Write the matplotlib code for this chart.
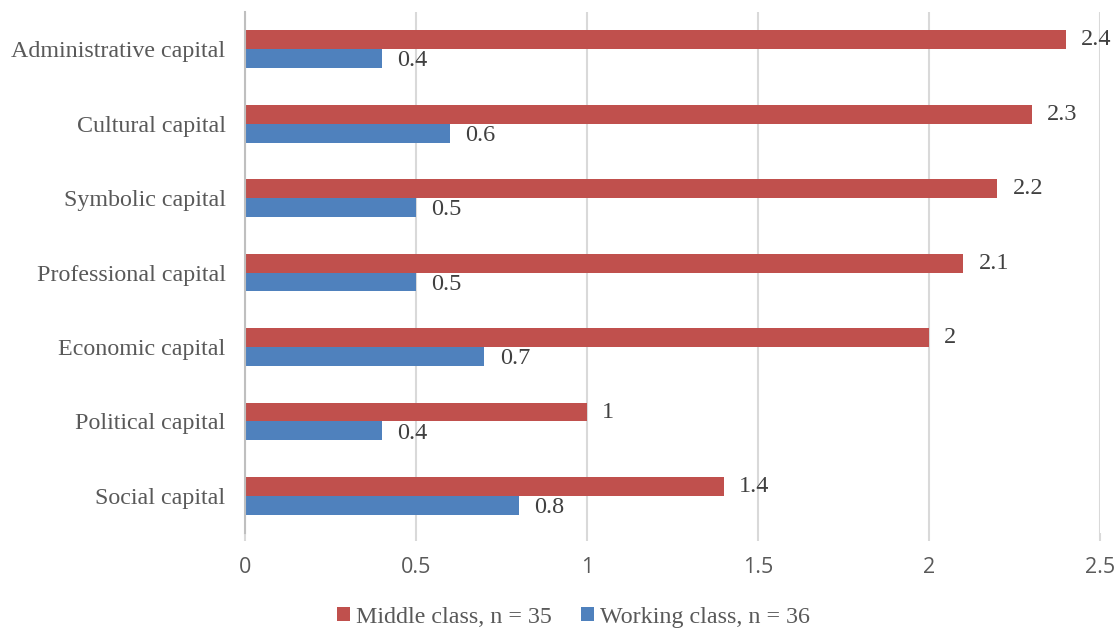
import matplotlib
matplotlib.use("Agg")
import matplotlib.pyplot as plt
import numpy as np

categories = ["Administrative capital", "Cultural capital", "Symbolic capital",
              "Professional capital", "Economic capital", "Political capital",
              "Social capital"]
middle = [2.4, 2.3, 2.2, 2.1, 2.0, 1.0, 1.4]
working = [0.4, 0.6, 0.5, 0.5, 0.7, 0.4, 0.8]
middle_labels = ["2.4", "2.3", "2.2", "2.1", "2", "1", "1.4"]
working_labels = ["0.4", "0.6", "0.5", "0.5", "0.7", "0.4", "0.8"]
xticks = [0, 0.5, 1, 1.5, 2, 2.5]
xticklabels = ["0", "0.5", "1", "1.5", "2", "2.5"]

red = "#C0504D"
blue = "#4F81BD"
serif = ["Liberation Serif", "DejaVu Serif"]

fig = plt.figure(figsize=(11.16, 6.28), dpi=100)
ax = fig.add_axes([0.2195, 0.151, 0.7662, 0.830])

n = len(categories)
y = np.arange(n)[::-1].astype(float)
h = 0.254
bm = ax.barh(y + h / 2, middle, height=h, color=red, label="Middle class, n = 35", zorder=3)
bw = ax.barh(y - h / 2, working, height=h, color=blue, label="Working class, n = 36", zorder=3)

for yi, v, s in zip(y, middle, middle_labels):
    ax.annotate(s, (v, yi + h / 2), xytext=(11, 0), textcoords="offset points",
                va="center", ha="left", fontsize=17.5, family=serif, color="#404040")
for yi, v, s in zip(y, working, working_labels):
    ax.annotate(s, (v, yi - h / 2), xytext=(11, -1.5), textcoords="offset points",
                va="center", ha="left", fontsize=17.5, family=serif, color="#404040")

ax.set_xlim(0, 2.5)
ax.set_ylim(-0.5, n - 0.5)
ax.set_yticks(y)
ax.set_yticklabels(categories, fontsize=17.3, family=serif, color="#595959")
ax.set_xticks(xticks)
ax.set_xticklabels(xticklabels, fontsize=15.5, family=["Open Sans", "DejaVu Sans"], color="#595959")
ax.tick_params(axis="y", length=0, pad=14)
ax.tick_params(axis="x", length=6, color="#D9D9D9", width=1.5, pad=11)

ax.grid(axis="x", color="#D9D9D9", linewidth=1.5, zorder=0)
for s in ["top", "right", "bottom"]:
    ax.spines[s].set_visible(False)
ax.spines["left"].set_color("#BFBFBF")
ax.spines["left"].set_linewidth(1.5)
ax.spines["left"].set_zorder(4)

leg = fig.legend(handles=[bm, bw], loc="lower center", bbox_to_anchor=(0.514, -0.034), ncol=2,
                 frameon=False, prop={"family": serif, "size": 17.3},
                 handlelength=0.55, handleheight=0.55, handletextpad=0.25, columnspacing=1.2)
for t in leg.get_texts():
    t.set_color("#595959")

fig.savefig("out.png", dpi=100)
